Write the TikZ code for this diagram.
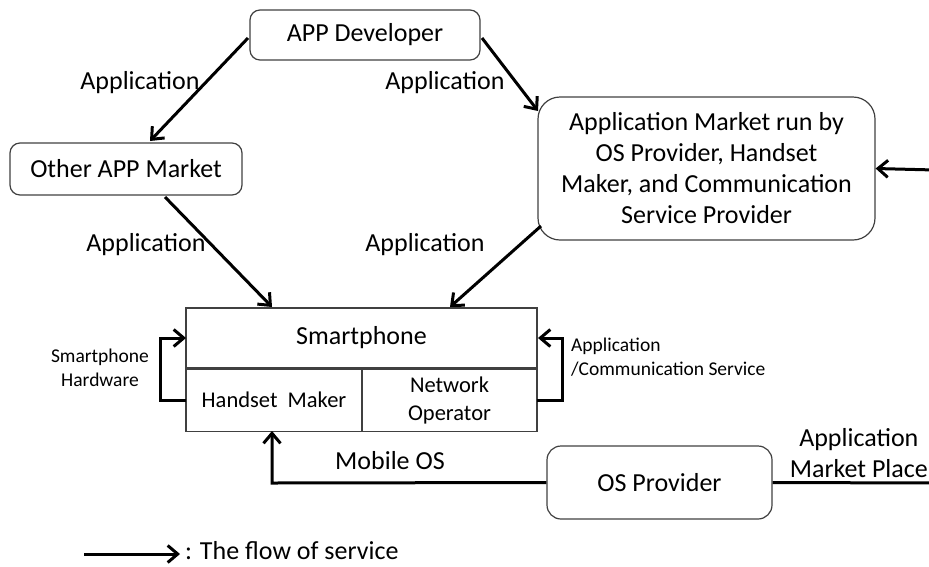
\documentclass[tikz,border=0pt]{standalone}
\usepackage{fontspec}
\setmainfont{Carlito}
\usetikzlibrary{arrows.meta,positioning}
\begin{document}
\begin{tikzpicture}[x=1pt,y=-1pt,
  every node/.style={font=\fontsize{26}{31}\selectfont, text=black},
  small/.style={font=\fontsize{19.5}{24}\selectfont},
  rbox/.style={draw=black!75, line width=1.2pt, rounded corners=10pt, inner sep=0pt},
  flow/.style={line width=3pt, -{Straight Barb[length=10pt,width=17pt,line width=3pt]}},
  plain/.style={line width=3pt},
  lbl/.style={inner sep=1pt}]
\useasboundingbox (0,0) rectangle (929,566);
% boxes
\node[rbox, minimum width=230pt, minimum height=50pt] (dev) at (365,35) {APP Developer};
\node[rbox, minimum width=232pt, minimum height=52pt] (other) at (126,169) {Other APP Market};
\node[rbox, rounded corners=22pt, minimum width=337pt, minimum height=143pt, align=center] (mkt) at (706.5,168.5) {Application Market run by\\OS Provider, Handset\\Maker, and Communication\\Service Provider};
\node[rbox, rounded corners=14pt, minimum width=225pt, minimum height=73pt] (os) at (659.5,482.5) {OS Provider};
% smartphone
\node[draw=black!75, line width=1.2pt, minimum width=351pt, minimum height=60pt, inner sep=0pt] (sp) at (361.5,338) {Smartphone};
\node[draw=black!75, line width=1.2pt, minimum width=176pt, minimum height=62pt, inner sep=0pt, anchor=north west] (hm) at (sp.south west) {};
\node[draw=black!75, line width=1.2pt, minimum width=175pt, minimum height=62pt, inner sep=0pt, anchor=north east] (no) at (sp.south east) {};
\node[font=\fontsize{22.5}{28}\selectfont] at (hm.center) {Handset\ \ Maker};
\node[font=\fontsize{22.5}{28}\selectfont, align=center] at (no.center) {Network\\Operator};
% coordinates
\coordinate (devL) at (248,38);
\coordinate (otherT) at (150,141);
\coordinate (devR) at (482,38);
\coordinate (mktT) at (538,111);
\coordinate (otherB) at (165,197);
\coordinate (spT1) at (272,307);
\coordinate (mktB) at (541,226);
\coordinate (spT2) at (450,307);
\coordinate (hwA) at (186,400);
\coordinate (hwB) at (186,338);
\coordinate (csA) at (537,400);
\coordinate (csB) at (538,338);
\coordinate (spB) at (272,431);
\coordinate (eR) at (935,483);
\coordinate (eR2) at (935,170);
% arrows
\draw[flow] (devL) -- (otherT);
\draw[flow] (devR) -- (mktT);
\draw[flow] (otherB) -- (spT1);
\draw[flow] (mktB) -- (spT2);
\draw[flow] (hwA) -- (160,400) -- (160,338) -- (hwB);
\draw[flow] (csA) -- (562,400) -- (562,338) -- (csB);
\draw[flow] (os.west) -- (272,483) -- (spB);
\draw[plain] (os.east) -- (eR);
\draw[flow] (eR2) -- (mkt.east);
\draw[flow] (84,554) coordinate (lgA) -- (180,554) coordinate (lgB);
% labels
\node[lbl] (l1) at (140,83) {Application};
\node[lbl] (l2) at (445,83) {Application};
\node[lbl] (l3) at (146,245) {Application};
\node[lbl] (l4) at (425,245) {Application};
\node[lbl] (l5) at (390,461) {Mobile OS};
\node[lbl, align=center, anchor=east] (l6) at (929,453) {Application\\Market Place};
\node[lbl, small, align=center] (l7) at (100,368) {Smartphone\\Hardware};
\node[lbl, small, align=left, anchor=west] (l8) at (570,357) {Application\\/Communication Service};
\node[lbl, anchor=west] (l9) at (184,551) {: The flow of service};
\end{tikzpicture}
\end{document}
